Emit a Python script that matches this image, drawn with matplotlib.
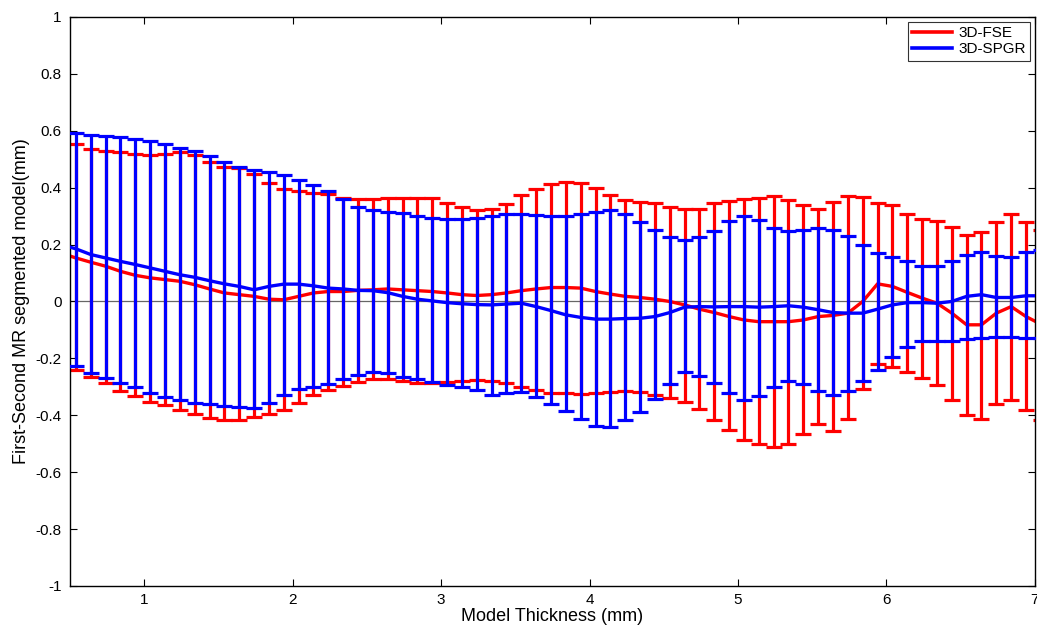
import numpy as np
import matplotlib
matplotlib.use('Agg')
import matplotlib.pyplot as plt
from matplotlib.ticker import FuncFormatter
from matplotlib.lines import Line2D

plt.rcParams['font.family'] = ['Liberation Sans', 'DejaVu Sans']

# Толщина модели (мм): сетка с шагом 0.1, крайние точки выходят за оси
thickness = np.round(np.arange(-1, 66) * 0.1 + 0.54, 2)

# 3D-FSE: среднее, верхняя и нижняя границы
fse_mean = [0.170, 0.153, 0.138, 0.124, 0.106, 0.092, 0.083, 0.077, 0.071, 0.059, 0.044,
            0.030, 0.024, 0.018, 0.008, 0.006, 0.018, 0.030, 0.035, 0.035, 0.039, 0.041,
            0.044, 0.041, 0.038, 0.035, 0.030, 0.024, 0.021, 0.024, 0.030, 0.038, 0.044,
            0.049, 0.049, 0.047, 0.035, 0.026, 0.018, 0.014, 0.008, 0.000, -0.012, -0.027,
            -0.039, -0.053, -0.065, -0.071, -0.071, -0.071, -0.065, -0.053, -0.049, -0.041, 0.000,
            0.062, 0.053, 0.032, 0.012, -0.006, -0.041, -0.082, -0.082, -0.041, -0.018, -0.053,
            -0.080]
fse_upper = [0.565, 0.553, 0.535, 0.530, 0.524, 0.518, 0.514, 0.520, 0.526, 0.514, 0.489,
             0.471, 0.468, 0.447, 0.418, 0.394, 0.388, 0.383, 0.377, 0.365, 0.359, 0.361,
             0.363, 0.365, 0.363, 0.363, 0.347, 0.332, 0.321, 0.326, 0.344, 0.373, 0.394,
             0.412, 0.420, 0.418, 0.400, 0.373, 0.357, 0.351, 0.347, 0.333, 0.326, 0.326,
             0.345, 0.353, 0.359, 0.365, 0.371, 0.357, 0.338, 0.326, 0.351, 0.371, 0.369,
             0.347, 0.339, 0.308, 0.291, 0.282, 0.263, 0.232, 0.244, 0.279, 0.306, 0.279,
             0.253]
fse_lower = [-0.216, -0.241, -0.265, -0.286, -0.314, -0.333, -0.353, -0.365, -0.380, -0.396, -0.408,
             -0.418, -0.415, -0.406, -0.396, -0.382, -0.357, -0.329, -0.312, -0.298, -0.282, -0.274,
             -0.273, -0.279, -0.288, -0.286, -0.282, -0.279, -0.276, -0.280, -0.286, -0.300, -0.312,
             -0.320, -0.323, -0.326, -0.323, -0.318, -0.315, -0.318, -0.329, -0.341, -0.355, -0.379,
             -0.415, -0.453, -0.486, -0.502, -0.512, -0.500, -0.465, -0.432, -0.455, -0.412, -0.306,
             -0.220, -0.229, -0.247, -0.270, -0.294, -0.347, -0.400, -0.412, -0.359, -0.347, -0.380,
             -0.415]

# 3D-SPGR: среднее, верхняя и нижняя границы
spgr_mean = [0.200, 0.185, 0.165, 0.153, 0.141, 0.130, 0.118, 0.106, 0.094, 0.085, 0.073,
             0.062, 0.053, 0.041, 0.053, 0.061, 0.061, 0.055, 0.047, 0.044, 0.039, 0.038,
             0.031, 0.018, 0.008, 0.002, -0.004, -0.008, -0.011, -0.012, -0.009, -0.006, -0.018,
             -0.032, -0.047, -0.056, -0.062, -0.062, -0.060, -0.059, -0.053, -0.039, -0.020, -0.018,
             -0.019, -0.018, -0.018, -0.020, -0.018, -0.015, -0.020, -0.029, -0.039, -0.041, -0.041,
             -0.027, -0.012, -0.004, -0.004, -0.006, 0.000, 0.018, 0.024, 0.014, 0.014, 0.020,
             0.020]
spgr_upper = [0.606, 0.592, 0.585, 0.583, 0.577, 0.571, 0.563, 0.553, 0.541, 0.530, 0.512,
              0.491, 0.473, 0.461, 0.455, 0.446, 0.427, 0.408, 0.387, 0.359, 0.333, 0.321,
              0.314, 0.310, 0.300, 0.294, 0.291, 0.291, 0.294, 0.300, 0.309, 0.306, 0.303,
              0.300, 0.300, 0.306, 0.314, 0.321, 0.309, 0.280, 0.250, 0.226, 0.215, 0.226,
              0.247, 0.282, 0.302, 0.288, 0.259, 0.247, 0.250, 0.257, 0.251, 0.229, 0.197,
              0.171, 0.157, 0.144, 0.126, 0.126, 0.141, 0.165, 0.173, 0.161, 0.155, 0.175,
              0.180]
spgr_lower = [-0.196, -0.227, -0.253, -0.270, -0.288, -0.302, -0.320, -0.335, -0.347, -0.357, -0.361,
              -0.367, -0.371, -0.374, -0.357, -0.327, -0.309, -0.300, -0.291, -0.274, -0.259, -0.247,
              -0.253, -0.265, -0.274, -0.282, -0.292, -0.300, -0.312, -0.327, -0.323, -0.318, -0.335,
              -0.359, -0.385, -0.412, -0.439, -0.441, -0.418, -0.388, -0.343, -0.291, -0.248, -0.262,
              -0.287, -0.321, -0.345, -0.333, -0.300, -0.280, -0.291, -0.315, -0.327, -0.314, -0.280,
              -0.240, -0.194, -0.159, -0.138, -0.138, -0.139, -0.133, -0.129, -0.124, -0.124, -0.129,
              -0.130]

x_ticks = [1, 2, 3, 4, 5, 6, 7]
y_ticks = [-1, -0.8, -0.6, -0.4, -0.2, 0, 0.2, 0.4, 0.6, 0.8, 1]


def err(mean, upper, lower):
    mean, upper, lower = np.array(mean), np.array(upper), np.array(lower)
    return [mean - lower, upper - mean]


fig = plt.figure(figsize=(10.37, 6.29), dpi=100)
ax = fig.add_axes([0.0675, 0.0684, 0.9305, 0.9046])

ax.axhline(0, color='k', lw=0.9, alpha=0.6, zorder=1)

ax.errorbar(thickness, fse_mean, yerr=err(fse_mean, fse_upper, fse_lower), color='#ff0000',
            lw=2.4, elinewidth=2.3, capsize=6, capthick=2.3, zorder=2)
ax.errorbar(thickness, spgr_mean, yerr=err(spgr_mean, spgr_upper, spgr_lower), color='#0000ff',
            lw=2.4, elinewidth=2.3, capsize=6, capthick=2.3, zorder=3)

ax.set_xlim(0.5, 7)
ax.set_ylim(-1, 1)
ax.set_xticks(x_ticks)
ax.set_yticks(y_ticks)
ax.yaxis.set_major_formatter(FuncFormatter(lambda v, p: '%g' % v))
ax.tick_params(direction='in', length=5, width=0.8, labelsize=11, top=True, right=True)
ax.tick_params(axis='y', pad=6)
ax.tick_params(axis='x', pad=5)
for s in ax.spines.values():
    s.set_linewidth(1.0)

ax.set_xlabel('Model Thickness (mm)', fontsize=13, labelpad=1)
ax.set_ylabel('First-Second MR segmented model(mm)', fontsize=13, labelpad=4)

handles = [Line2D([], [], color='#ff0000', lw=2.6), Line2D([], [], color='#0000ff', lw=2.6)]
leg = ax.legend(handles, ['3D-FSE', '3D-SPGR'], loc='upper right', fontsize=11, fancybox=False,
                edgecolor='k', handlelength=2.6, borderaxespad=0.3, borderpad=0.3,
                labelspacing=0.15, handletextpad=0.4)
leg.get_frame().set_linewidth(0.8)

fig.savefig('out.png', dpi=100)
